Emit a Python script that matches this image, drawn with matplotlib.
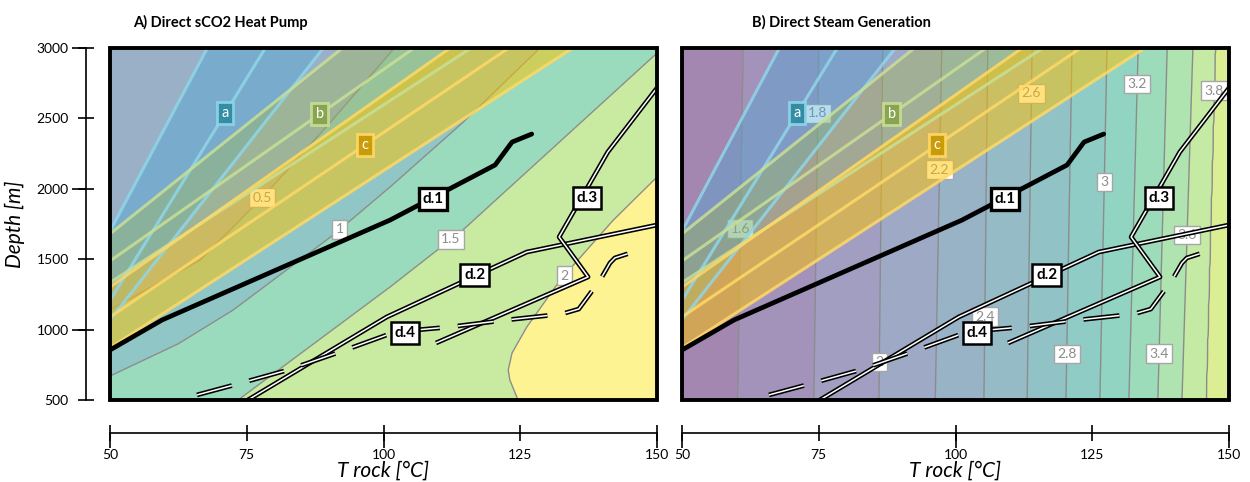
import numpy as np
import matplotlib
matplotlib.use("Agg")
import matplotlib.pyplot as plt
import matplotlib.patheffects as pe
from matplotlib.patches import Rectangle

plt.rcParams['font.family'] = ['Lato', 'DejaVu Sans']
plt.rcParams['lines.scale_dashes'] = False

# ---------------------------------------------------------------- data
t_lim = (50, 150)
d_lim = (500, 3000)
x_ticks = [50, 75, 100, 125, 150]
y_ticks = [500, 1000, 1500, 2000, 2500, 3000]

# sCO2 heat pump: isolines given as depth nodes and temperature nodes
hp_levels = [0.5, 1.0, 1.5, 2.0]
hp_iso_depth = [
    [500, 1139, 1494, 1935, 2467, 2964, 3000],
    [500, 678, 900, 1139, 1672, 2013, 2467, 3000],
    [500, 1303, 1707, 2964, 3000],
    [500, 642, 713, 834, 1019, 1352, 1778, 2084, 3000],
]
hp_iso_temp = [
    [22.0, 50.0, 66.5, 77.8, 90.2, 101.2, 102.0],
    [41.9, 50.4, 62.5, 72.5, 90.8, 101.2, 114.4, 128.6],
    [73.4, 101.2, 114.5, 150.0, 150.7],
    [124.6, 123.1, 122.8, 123.5, 126.2, 132.3, 142.0, 150.0, 174.0],
]
hp_label_pos = [(77.8, 1935), (92.4, 1700), (112.0, 1651), (132.6, 1395)]

# Direct steam generation: isoline temperatures at 500 m and 3000 m
sg_levels = [1.6, 1.8, 2.0, 2.2, 2.4, 2.6, 2.8, 3.0, 3.2, 3.4, 3.6, 3.8]
sg_temp_500 = [60.2, 74.1, 86.0, 96.3, 105.2, 113.1, 120.2, 126.4, 131.7, 137.0, 141.4, 145.8]
sg_temp_3000 = [61.2, 75.0, 86.7, 97.5, 105.9, 114.0, 121.3, 127.7, 133.4, 138.7, 143.4, 147.5]
sg_label_pos = [(61.0, 1715), (74.9, 2538), (86.2, 770), (96.6, 2134), (105.4, 1090),
                (114.2, 2680), (120.1, 827), (127.4, 2048), (133.4, 2744), (137.2, 827),
                (142.3, 1672), (146.9, 2695)]

# Geothermal bands a, b, c: temperature at 500 m and 3000 m of each boundary
band_names = ['a', 'b', 'c']
band_upper = [(33.6, 67.8), (12.0, 92.5), (20.6, 112.2)]
band_center = [(38.8, 78.4), (13.7, 105.6), (27.5, 122.9)]
band_lower = [(38.5, 89.0), (17.0, 116.0), (35.3, 134.6)]
band_label_depth = [2538, 2531, 2311]

# Doublet trajectories d.1 ... d.4 (temperature, depth)
d1_T = [50.0, 59.5, 101.2, 120.4, 123.5, 127.1]
d1_D = [855, 1068, 1778, 2169, 2332, 2389]
d2_T = [75.2, 100.6, 126.2, 150.0]
d2_D = [500, 1090, 1551, 1743]
d3_T = [150.0, 141.0, 132.1, 137.4, 109.6]
d3_D = [2716, 2261, 1658, 1374, 905]
d4_T = [65.9, 72.7, 82.5, 92.0, 100.6, 103.9, 112.2, 122.4, 132.6, 135.7, 139.6, 141.4, 142.3, 147.4]
d4_D = [536, 607, 713, 841, 962, 990, 1019, 1068, 1111, 1146, 1352, 1473, 1509, 1573]
d_labels = ['d.1', 'd.2', 'd.3', 'd.4']
d_label_pos = [(109.05, 1928), (116.7, 1388), (137.2, 1935), (103.9, 976)]

# ---------------------------------------------------------------- figure
W, H = 1250, 482
fig = plt.figure(figsize=(W / 100, H / 100), dpi=100)


def px_rect(x0, y0, x1, y1):
    return [x0 / W, 1 - y1 / H, (x1 - x0) / W, (y1 - y0) / H]


ax_hp = fig.add_axes(px_rect(110, 48, 657, 400))
ax_sg = fig.add_axes(px_rect(682, 48, 1229, 400))

T_grid = np.linspace(40, 160, 700)
D_grid = np.linspace(450, 3050, 400)
viridis = plt.get_cmap('viridis')


def washed(v, a=0.5):
    r, g, b, _ = viridis(min(max(v, 0.0), 1.0))
    return (1 - a + a * r, 1 - a + a * g, 1 - a + a * b)


def build_field(levels, depth_nodes, temp_nodes, lo, hi):
    z = np.empty((len(D_grid), len(T_grid)))
    for i, d in enumerate(D_grid):
        cross = [np.interp(d, dn, tn) for dn, tn in zip(depth_nodes, temp_nodes)]
        xs = [cross[0] - 40] + cross + [cross[-1] + 40]
        vs = [lo] + list(levels) + [hi]
        z[i] = np.interp(T_grid, xs, vs)
    return z


def draw_field(ax, levels, z, lo, hi, vmin, vmax, label_pos):
    bounds = [lo] + list(levels) + [hi]
    mids = [(a + b) / 2 for a, b in zip(bounds[:-1], bounds[1:])]
    cols = [washed((m - vmin) / (vmax - vmin)) for m in mids]
    ax.contourf(T_grid, D_grid, z, levels=bounds, colors=cols, zorder=0)
    cs = ax.contour(T_grid, D_grid, z, levels=levels, colors='#8c8c8c',
                    linewidths=1.0, zorder=1)
    texts = ax.clabel(cs, levels, inline=False, fmt='%g', fontsize=10,
                      manual=label_pos, colors='#8c8c8c')
    for t in texts:
        t.set_rotation(0)
        t.set_zorder(2)
        t.set_bbox(dict(boxstyle='square,pad=0.25', fc='white', ec='#a6a6a6', lw=1.0))


band_fill = ['#4aa8d6', '#aabe3c', '#ffc400']
band_fill_alpha = [0.40, 0.33, 0.50]
band_line = ['#8fd6e8', '#c9df96', '#ffd966']
band_box = ['#2c8aa1', '#86a24a', '#c99700']


def draw_bands(ax):
    dd = np.array(d_lim)
    for name, up, ce, lo, fc, fa, lc, bc, ld in zip(
            band_names, band_upper, band_center, band_lower, band_fill,
            band_fill_alpha, band_line, band_box, band_label_depth):
        ax.fill(np.r_[up, lo[::-1]], np.r_[dd, dd[::-1]], color=fc, alpha=fa,
                lw=0, zorder=3)
        for ln in (up, ce, lo):
            ax.plot(ln, dd, color=lc, lw=2.2, alpha=0.85, zorder=3.5,
                    solid_capstyle='butt')
        t = np.interp(ld, dd, ce)
        ax.text(t, ld, name, ha='center', va='center', color='white',
                fontsize=10.5, zorder=6,
                bbox=dict(boxstyle='square,pad=0.3', fc=bc, ec=lc, lw=2.0, alpha=0.9))


def double_line(ax, x, y, dashed=False):
    kw = dict(color='white', lw=1.1, zorder=5, solid_capstyle='butt',
              dash_capstyle='butt',
              path_effects=[pe.Stroke(linewidth=3.4, foreground='black'), pe.Normal()])
    if dashed:
        kw['dashes'] = (26, 13)
    ax.plot(x, y, **kw)


def draw_doublets(ax):
    ax.plot(d1_T, d1_D, color='black', lw=3.4, zorder=5, solid_capstyle='round',
            solid_joinstyle='round')
    double_line(ax, d2_T, d2_D)
    double_line(ax, d3_T, d3_D)
    double_line(ax, d4_T, d4_D, dashed=True)
    for lab, (t, d) in zip(d_labels, d_label_pos):
        lw = 2.4 if lab == 'd.1' else 1.8
        ax.text(t, d, lab, ha='center', va='center', fontsize=11, fontweight='bold',
                color='black', zorder=7,
                bbox=dict(boxstyle='square,pad=0.25', fc='white', ec='black', lw=lw))


def style_axes(ax, show_y):
    ax.set_xlim(*t_lim)
    ax.set_ylim(*d_lim)
    ax.add_patch(Rectangle((0, 0), 1, 1, transform=ax.transAxes, fill=False,
                           lw=2.8, ec='black', zorder=10, clip_on=False))
    for s in ('top', 'right'):
        ax.spines[s].set_visible(False)
    ax.spines['bottom'].set_position(('outward', 23.6))
    ax.spines['bottom'].set_linewidth(1.2)
    ax.set_xticks(x_ticks)
    ax.set_xticks([50, 100, 150], minor=True)
    ax.xaxis.remove_overlapping_locs = False
    ax.tick_params(axis='x', which='major', direction='inout', length=11, width=1.2,
                   labelsize=10, pad=6)
    ax.tick_params(axis='x', which='minor', direction='out', length=11, width=1.2)
    ax.set_xlabel('T rock [°C]', fontsize=15, fontstyle='italic', labelpad=0)
    if show_y:
        ax.spines['left'].set_position(('outward', 17.3))
        ax.spines['left'].set_linewidth(1.2)
        ax.set_yticks(y_ticks)
        ax.set_yticks([1000, 2000, 3000], minor=True)
        ax.yaxis.remove_overlapping_locs = False
        ax.tick_params(axis='y', which='major', direction='inout', length=11, width=1.2,
                       labelsize=10, pad=7)
        ax.tick_params(axis='y', which='minor', direction='out', length=10, width=1.2)
        ax.set_ylabel('Depth [m]', fontsize=15, fontstyle='italic', labelpad=8)
    else:
        ax.spines['left'].set_visible(False)
        ax.set_yticks([])


# heat pump panel
z_hp = build_field(hp_levels, hp_iso_depth, hp_iso_temp, 0.0, 2.5)
draw_field(ax_hp, hp_levels, z_hp, 0.0, 2.5, -0.64, 2.22, hp_label_pos)

# steam generation panel
sg_depth = [[d_lim[0], d_lim[1]]] * len(sg_levels)
sg_temp = [[a, b] for a, b in zip(sg_temp_500, sg_temp_3000)]
z_sg = build_field(sg_levels, sg_depth, sg_temp, 1.4, 4.0)
draw_field(ax_sg, sg_levels, z_sg, 1.4, 4.0, 1.4, 4.2, sg_label_pos)

for ax, show_y in ((ax_hp, True), (ax_sg, False)):
    draw_bands(ax)
    draw_doublets(ax)
    style_axes(ax, show_y)

fig.text(133 / W, 1 - 22 / H, 'A) Direct sCO2 Heat Pump', fontsize=10.5,
         fontweight='bold', ha='left', va='center')
fig.text(752 / W, 1 - 22 / H, 'B) Direct Steam Generation', fontsize=10.5,
         fontweight='bold', ha='left', va='center')

fig.savefig('out.png', dpi=100)
